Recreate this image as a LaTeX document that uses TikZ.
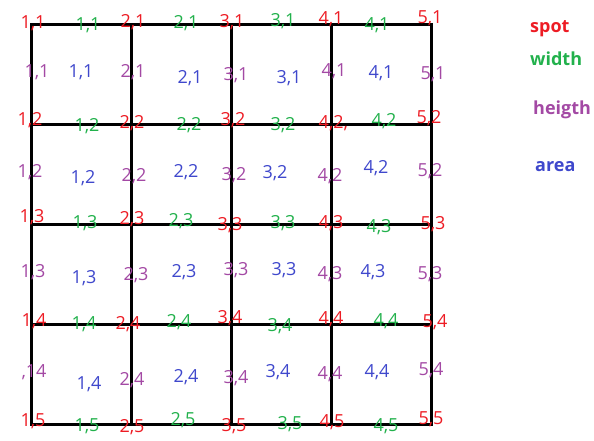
\documentclass[tikz,border=0pt]{standalone}
\usepackage{fontspec}
\setmainfont{Open Sans}
\definecolor{spotred}{HTML}{ED1C24}
\definecolor{widthgreen}{HTML}{22B14C}
\definecolor{heightpurple}{HTML}{A349A4}
\definecolor{areablue}{HTML}{3F48CC}
\tikzset{
  lbl/.style={inner sep=0pt, text height=0.714em, text depth=0pt, anchor=center, font=\fontsize{18}{20}\selectfont},
  sp/.style={lbl, text=spotred},
  wd/.style={lbl, text=widthgreen},
  ht/.style={lbl, text=heightpurple},
  ar/.style={lbl, text=areablue},
  legend/.style={inner sep=0pt, anchor=base west, font=\fontsize{18}{20}\selectfont\bfseries},
  gridline/.style={line width=3pt, black, line cap=rect}
}
\begin{document}
\begin{tikzpicture}[x=1pt, y=-1pt]
\useasboundingbox (0,0) rectangle (594,440);
% grid
\foreach \i in {0,...,4}{
  \draw[gridline] (31+100*\i,24) -- (31+100*\i,424);
  \draw[gridline] (31,24+100*\i) -- (431,24+100*\i);
}
% row 1
\node[sp] (s11) at (33,25) {1,1};
\node[wd] (w11) at (88,27) {1,1};
\node[sp] (s21) at (133,24) {2,1};
\node[wd] (w21) at (186,25) {2,1};
\node[sp] (s31) at (232,24) {3,1};
\node[wd] (w31) at (283,23) {3,1};
\node[sp] (s41) at (331,21) {4,1};
\node[wd] (w41) at (377,27) {4,1};
\node[sp] (s51) at (430,20) {5,1};
\node[ht] (h11) at (37,74) {1,1};
\node[ar] (a11) at (81,74) {1,1};
\node[ht] (h21) at (133,74) {2,1};
\node[ar] (a21) at (190,80) {2,1};
\node[ht] (h31) at (236,77) {3,1};
\node[ar] (a31) at (289,80) {3,1};
\node[ht] (h41) at (334,73) {4,1};
\node[ar] (a41) at (381,75) {4,1};
\node[ht] (h51) at (433,76) {5,1};
% row 2
\node[sp] (s12) at (30,122) {1,2};
\node[wd] (w12) at (87,128) {1,2};
\node[sp] (s22) at (132,125) {2,2};
\node[wd] (w22) at (189,127) {2,2};
\node[sp] (s32) at (233,122) {3,2};
\node[wd] (w32) at (283,127) {3,2};
\node[sp, anchor=west] (s42) at (318.5,125) {4,2,};
\node[wd] (w42) at (384,123) {4,2};
\node[sp] (s52) at (429,120) {5,2};
\node[ht] (h12) at (30,174) {1,2};
\node[ar] (a12) at (83,180) {1,2};
\node[ht] (h22) at (134,178) {2,2};
\node[ar] (a22) at (186,174) {2,2};
\node[ht] (h32) at (234,177) {3,2};
\node[ar] (a32) at (275,175) {3,2};
\node[ht] (h42) at (330,178) {4,2};
\node[ar] (a42) at (376,170) {4,2};
\node[ht] (h52) at (430,173) {5,2};
% row 3
\node[sp] (s13) at (32,219) {1,3};
\node[wd] (w13) at (85,225) {1,3};
\node[sp] (s23) at (132,221) {2,3};
\node[wd] (w23) at (181,223) {2,3};
\node[sp] (s33) at (230,227) {3,3};
\node[wd] (w33) at (283,225) {3,3};
\node[sp] (s43) at (331,225) {4,3};
\node[wd] (w43) at (379,229) {4,3};
\node[sp] (s53) at (433,226) {5,3};
\node[ht] (h13) at (33,274) {1,3};
\node[ar] (a13) at (84,280) {1,3};
\node[ht] (h23) at (136,277) {2,3};
\node[ar] (a23) at (184,274) {2,3};
\node[ht] (h33) at (236,272) {3,3};
\node[ar] (a33) at (284,272) {3,3};
\node[ht] (h43) at (330,276) {4,3};
\node[ar] (a43) at (373,274) {4,3};
\node[ht] (h53) at (430,276) {5,3};
% row 4
\node[sp] (s14) at (34,323) {1,4};
\node[wd] (w14) at (84,326) {1,4};
\node[sp] (s24) at (128,326) {2,4};
\node[wd] (w24) at (179,324) {2,4};
\node[sp] (s34) at (230,320) {3,4};
\node[wd] (w34) at (280,328) {3,4};
\node[sp] (s44) at (331,321) {4,4};
\node[wd] (w44) at (386,323) {4,4};
\node[sp] (s54) at (435,324) {5,4};
\node[ht] (h14) at (34,374) {,14};
\node[ar] (a14) at (89,386) {1,4};
\node[ht] (h24) at (132,382) {2,4};
\node[ar] (a24) at (186,379) {2,4};
\node[ht] (h34) at (236,380) {3,4};
\node[ar] (a34) at (278,374) {3,4};
\node[ht] (h44) at (330,376) {4,4};
\node[ar] (a44) at (377,374) {4,4};
\node[ht] (h54) at (431,372) {5,4};
% row 5
\node[sp] (s15) at (33,423) {1,5};
\node[wd] (w15) at (87,428) {1,5};
\node[sp] (s25) at (132,429) {2,5};
\node[wd] (w25) at (183,422) {2,5};
\node[sp] (s35) at (234,428) {3,5};
\node[wd] (w35) at (290,426) {3,5};
\node[sp] (s45) at (332,424) {4,5};
\node[wd] (w45) at (386,428) {4,5};
\node[sp] (s55) at (431,421) {5,5};
% legend
\node[legend, text=spotred] (lspot) at (530,32) {spot};
\node[legend, text=widthgreen] (lwidth) at (530,65) {width};
\node[legend, text=heightpurple] (lheight) at (533,114) {heigth};
\node[legend, text=areablue] (larea) at (535,171) {area};
\end{tikzpicture}
\end{document}
